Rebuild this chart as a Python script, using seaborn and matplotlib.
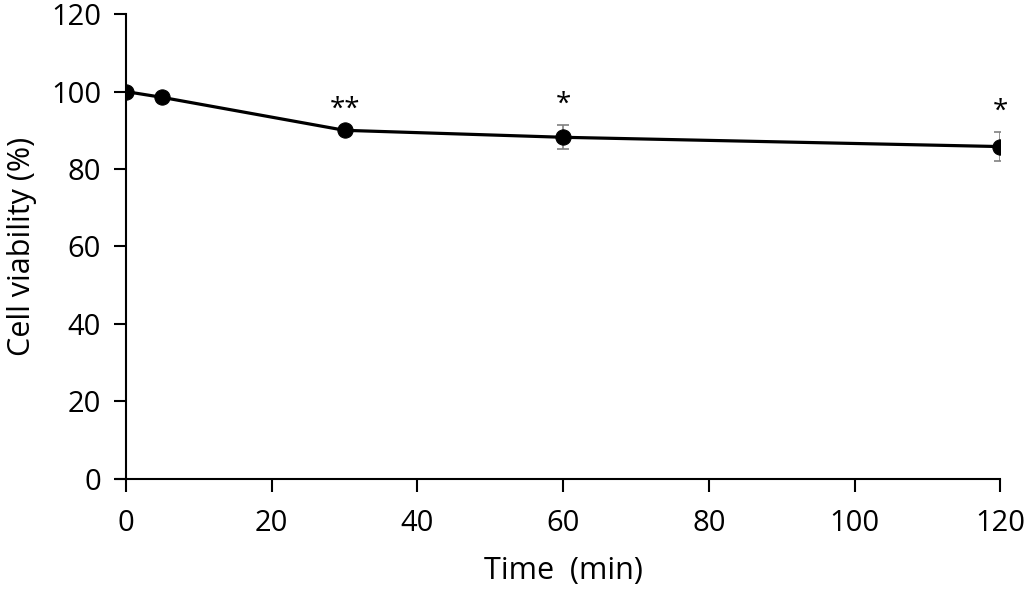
import numpy as np
import pandas as pd
import matplotlib
matplotlib.use("Agg")
import matplotlib.pyplot as plt
import seaborn as sns

# data
time_min = [0, 5, 30, 60, 120]
viability = [100.0, 98.5, 90.0, 88.2, 85.8]
err = [0.0, 0.0, 0.0, 3.1, 3.7]
stars = ["", "", "**", "*", "*"]

x_ticks = [0, 20, 40, 60, 80, 100, 120]
y_ticks = [0, 20, 40, 60, 80, 100, 120]

df = pd.DataFrame({"time": time_min, "viab": viability, "err": err, "star": stars})

sns.set_style("white")
plt.rcParams["font.family"] = ["Open Sans", "DejaVu Sans"]
plt.rcParams["text.color"] = "black"
plt.rcParams["axes.labelcolor"] = "black"
plt.rcParams["xtick.color"] = "black"
plt.rcParams["ytick.color"] = "black"

fig = plt.figure(figsize=(10.24, 5.89), dpi=100)
ax = fig.add_axes([0.123, 0.187, 0.854, 0.789])

# error bars (grey, capped)
ax.errorbar(df["time"], df["viab"], yerr=df["err"], fmt="none",
            ecolor="#808080", elinewidth=1.2, capsize=4, capthick=1.2, zorder=2)

sns.lineplot(data=df, x="time", y="viab", ax=ax, color="black", linewidth=2.3,
             marker="o", markersize=11, markeredgecolor="black",
             markerfacecolor="black", zorder=3)

# significance stars
for _, r in df.iterrows():
    if r["star"]:
        ax.text(r["time"], r["viab"] + r["err"] + 1.6, r["star"],
                ha="center", va="bottom", fontsize=20)

ax.set_xlim(0, 120)
ax.set_ylim(0, 120)
ax.set_xticks(x_ticks)
ax.set_yticks(y_ticks)
ax.set_xticklabels([str(t) for t in x_ticks])
ax.set_yticklabels([str(t) for t in y_ticks])

sns.despine(ax=ax)
for s in ["left", "bottom"]:
    ax.spines[s].set_color("black")
    ax.spines[s].set_linewidth(1.5)
ax.spines["bottom"].set_bounds(-1.4, 120)

ax.tick_params(axis="both", direction="out", length=9, width=1.5,
               labelsize=21, pad=9, left=True, bottom=True)
ax.tick_params(axis="x", pad=13)
ax.set_xlabel("Time  (min)", fontsize=22, labelpad=13)
ax.set_ylabel("Cell viability (%)", fontsize=22, labelpad=10)

fig.savefig("out.png", dpi=100)
